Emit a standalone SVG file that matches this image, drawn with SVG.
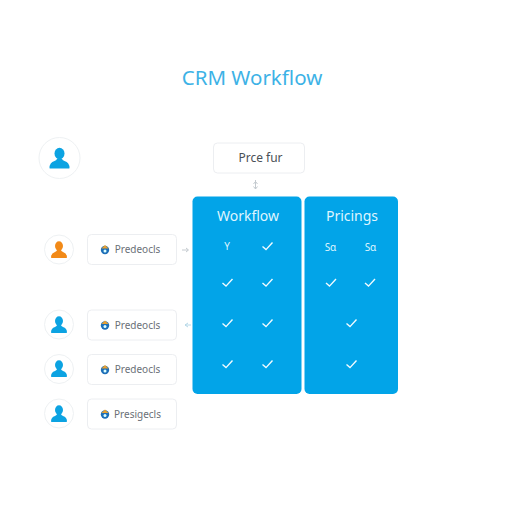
<svg xmlns="http://www.w3.org/2000/svg" width="512" height="512" viewBox="0 0 512 512">
<defs>
<g id="user"><ellipse cx="0" cy="-5" rx="5" ry="5.800"/><path d="M-10 9.500 Q-10 4 -5 2.500 Q-2.500 1.500 -2.500 0 H2.500 Q2.500 1.500 5 2.500 Q10 4 10 9.500 Q10 10 9 10 H-9 Q-10 10 -10 9.500Z"/></g>
<path id="chk" d="M-5 0.500 L-1.500 3.600 L5 -3.500" fill="none" stroke="#f2fbff" stroke-width="1.400"/>
<g id="ico"><circle cx="0" cy="0.500" r="4.200" fill="#1d6fb8"/><path d="M-3.500 -1 L0 -4.500 L3.500 -1Z" fill="#e8a030"/><circle cx="0" cy="1.500" r="1.500" fill="#dff"/></g>
</defs>
<style>
text{font-family:"Noto Sans","Liberation Sans",sans-serif}
.av{fill:#fff;stroke:#eef1f3;stroke-width:1}
.card{fill:#fff;stroke:#eceef1;stroke-width:1}
.lbl{font-size:10px;fill:#6a7077;text-anchor:middle}
.panel{fill:#02a4e8}
.hd{font-size:14px;fill:#dff5ff;text-anchor:middle}
.sm{font-size:10px;fill:#dff5ff;text-anchor:middle}
.con{stroke:#c4cacf;stroke-width:1;fill:none}
.blue{fill:#0ca3e2}
</style>
<rect width="512" height="512" fill="#fff"/>
<text id="title" x="252" y="85" font-size="20.500" fill="#3db2e6" text-anchor="middle">CRM Workflow</text>
<g id="connectors">
<path class="con" d="M255.500 180V189M253.500 184L255.500 181.500L257.500 184M253.500 186.500L255.500 189L257.500 186.500"/>
<path class="con" d="M182 250H188M186 248L188.500 250L186 252"/>
<path class="con" d="M185 325H191M188 323L185 325L188 327" style="stroke:#b5d8e8"/>
</g>
<g id="user-top"><circle class="av" cx="59.500" cy="158" r="20.500"/><use href="#user" x="59.500" y="158.500" class="blue"/></g>
<g id="user-1"><circle class="av" cx="59" cy="249.500" r="14.500"/><use href="#user" transform="translate(59 250) scale(.8)" fill="#f28a18"/></g>
<g id="user-2"><circle class="av" cx="59" cy="324.500" r="14.500"/><use href="#user" transform="translate(59 325) scale(.8)" class="blue"/></g>
<g id="user-3"><circle class="av" cx="59" cy="369" r="14.500"/><use href="#user" transform="translate(59 369) scale(.8)" class="blue"/></g>
<g id="user-4"><circle class="av" cx="59" cy="413.500" r="14.500"/><use href="#user" transform="translate(59 414) scale(.8)" class="blue"/></g>
<g id="card-1"><rect class="card" x="87.500" y="234.500" width="89" height="30" rx="4"/><use href="#ico" x="105" y="249.500"/><text class="lbl" x="137.500" y="253">Predeocls</text></g>
<g id="card-2"><rect class="card" x="87.500" y="310" width="89" height="30" rx="4"/><use href="#ico" x="105" y="325"/><text class="lbl" x="137.500" y="328.500">Predeocls</text></g>
<g id="card-3"><rect class="card" x="87.500" y="354.500" width="89" height="30" rx="4"/><use href="#ico" x="105" y="369.500"/><text class="lbl" x="137.500" y="373">Predeocls</text></g>
<g id="card-4"><rect class="card" x="87.500" y="399" width="89" height="30" rx="4"/><use href="#ico" x="105" y="414"/><text class="lbl" x="137.500" y="417.500">Presigecls</text></g>
<g id="price"><rect class="card" x="213.500" y="143" width="91" height="30" rx="4"/><text x="260.500" y="162" font-size="12" fill="#4a5056" text-anchor="middle">Prce fur</text></g>
<g id="workflow"><rect class="panel" x="192.500" y="196.500" width="109" height="197.500" rx="5"/>
<text class="hd" x="248" y="221">Workflow</text>
<text class="sm" x="227" y="250">Y</text>
<use href="#chk" x="267.500" y="246"/>
<use href="#chk" x="227.500" y="282.500"/><use href="#chk" x="267.500" y="282.500"/>
<use href="#chk" x="227.500" y="323"/><use href="#chk" x="267.500" y="323"/>
<use href="#chk" x="227.500" y="364"/><use href="#chk" x="267.500" y="364"/>
</g>
<g id="pricing"><rect class="panel" x="304.500" y="196.500" width="93.500" height="197.500" rx="5"/>
<text class="hd" x="352" y="221">Pricings</text>
<text class="sm" x="330.500" y="250.500">Sα</text><text class="sm" x="370.500" y="250.500">Sα</text>
<use href="#chk" x="331" y="282.500"/><use href="#chk" x="370" y="282.500"/>
<use href="#chk" x="351.500" y="323"/>
<use href="#chk" x="351.500" y="364"/>
</g>
</svg>
